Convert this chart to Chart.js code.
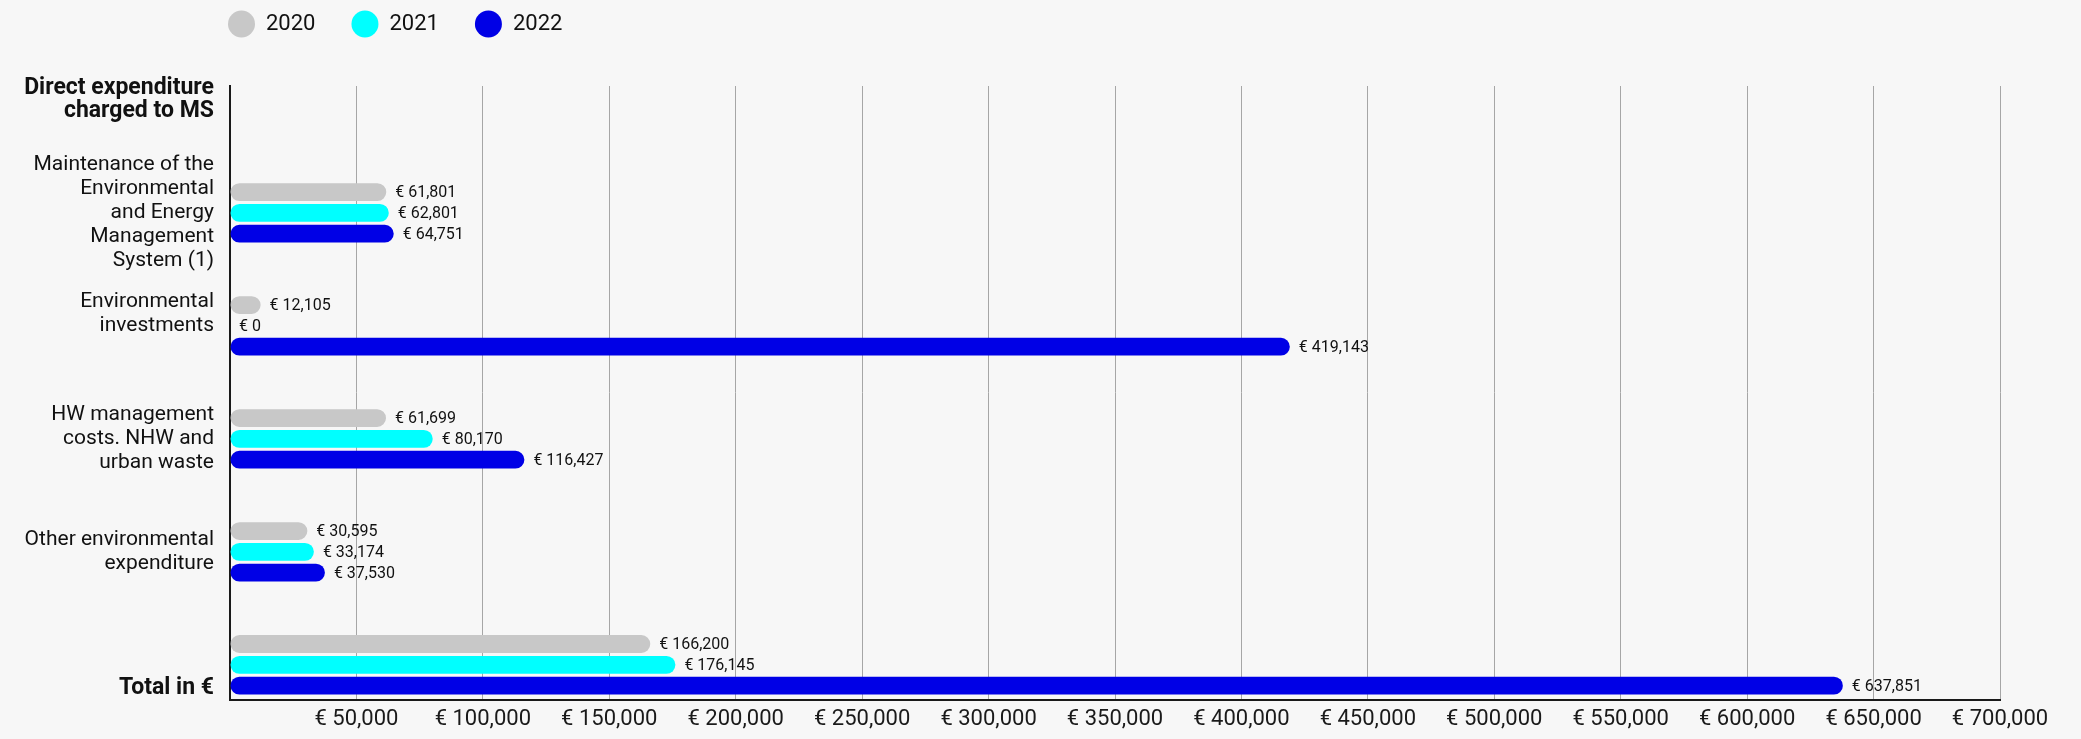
<!DOCTYPE html>
<html>
<head>
<meta charset="utf-8">
<script src="https://cdn.jsdelivr.net/npm/chart.js@4.4.1/dist/chart.umd.min.js"></script>
<style>
  html, body { margin: 0; padding: 0; background: #f7f7f7; }
  canvas { display: block; }
</style>
</head>
<body>
<canvas id="c" width="2081" height="739"></canvas>
<script>
// ---- Data ----
const categories = [
  ['Direct expenditure', 'charged to MS'],
  ['Maintenance of the', 'Environmental', 'and Energy', 'Management', 'System (1)'],
  ['Environmental', 'investments'],
  ['HW management', 'costs. NHW and', 'urban waste'],
  ['Other environmental', 'expenditure'],
  ['Total in €']
];
const years = ['2020', '2021', '2022'];
const values2020 = [61801, 12105, 61699, 30595, 166200];
const values2021 = [62801, 0, 80170, 33174, 176145];
const values2022 = [64751, 419143, 116427, 37530, 637851];
const xTickStep = 50000;
const xMax = 700000;

// ---- Styles ----
const FONT = 'Roboto';
const colors = ['#c8c8c8', '#00ffff', '#0000e6'];
const boldCats = [0, 5];

function euro(v) { return '€ ' + Number(v).toLocaleString('en-US'); }

const series = [values2020, values2021, values2022];
const datasets = series.map((vals, si) => ({
  label: years[si],
  data: vals.map((v, i) => ({ x: v, y: i + 1 })),
  backgroundColor: colors[si],
  borderWidth: 0,
  borderRadius: 9,
  borderSkipped: false,
  categoryPercentage: 0.5526,
  barPercentage: 0.857
}));

const valueLabels = {
  id: 'valueLabels',
  afterDatasetsDraw(chart) {
    const ctx = chart.ctx;
    ctx.save();
    ctx.font = '16px ' + FONT;
    ctx.fillStyle = '#111';
    ctx.textBaseline = 'middle';
    ctx.textAlign = 'left';
    chart.data.datasets.forEach((ds, di) => {
      const meta = chart.getDatasetMeta(di);
      meta.data.forEach((bar, i) => {
        ctx.fillText(euro(ds.data[i].x), bar.x + 9, bar.y + 1);
      });
    });
    ctx.restore();
  }
};

const legendShift = {
  id: 'legendShift',
  afterLayout(chart) {
    const lg = chart.legend;
    if (lg) { lg.left = 192; lg.top = -23; }
  }
};

Chart.defaults.font.family = FONT;
Chart.defaults.color = '#111';

new Chart(document.getElementById('c'), {
  type: 'bar',
  data: { datasets },
  plugins: [valueLabels, legendShift],
  options: {
    responsive: false,
    animation: false,
    indexAxis: 'y',
    layout: { padding: { top: 18, right: 81, left: 0, bottom: 0 } },
    plugins: {
      legend: {
        position: 'top',
        align: 'start',
        labels: {
          usePointStyle: true,
          pointStyle: 'circle',
          pointStyleWidth: 27,
          boxHeight: 19,
          padding: 36,
          color: '#111',
          font: { size: 22, family: FONT }
        }
      },
      tooltip: { enabled: false }
    },
    scales: {
      x: {
        type: 'linear',
        min: 0,
        max: xMax,
        afterFit(scale) { scale.height = 36; },
        grid: { color: '#a6a6a6', lineWidth: 1, drawTicks: false },
        border: { display: true, color: '#1a1a1a', width: 2 },
        ticks: {
          stepSize: xTickStep,
          padding: 7,
          color: '#1a1a1a',
          font: { size: 22, family: FONT },
          maxRotation: 0,
          autoSkip: false,
          callback: (v) => v === 0 ? '' : euro(v)
        }
      },
      y: {
        type: 'linear',
        reverse: true,
        offset: false,
        bounds: 'data',
        min: -0.123,
        max: 5.307,
        afterBuildTicks(scale) { scale.ticks = categories.map((c, i) => ({ value: i })); },
        afterFit(scale) { scale.width = 230; },
        grid: { display: false, drawTicks: false },
        border: { display: true, color: '#1a1a1a', width: 2 },
        ticks: {
          autoSkip: false,
          padding: 16,
          color: '#111',
          font: (ctx) => {
            const bold = ctx.tick && boldCats.includes(ctx.tick.value);
            return bold
              ? { size: 23, family: FONT, lineHeight: 1.02, weight: 'bold' }
              : { size: 21, family: FONT, lineHeight: 1.15, weight: 'normal' };
          },
          callback: (v) => {
            if (!Number.isInteger(v) || !categories[v]) return '';
            const lines = categories[v].slice();
            if (v === 2) lines.push('');
            if (v === 5) lines.unshift('', '');
            return lines;
          }
        }
      }
    }
  }
});
</script>
</body>
</html>
